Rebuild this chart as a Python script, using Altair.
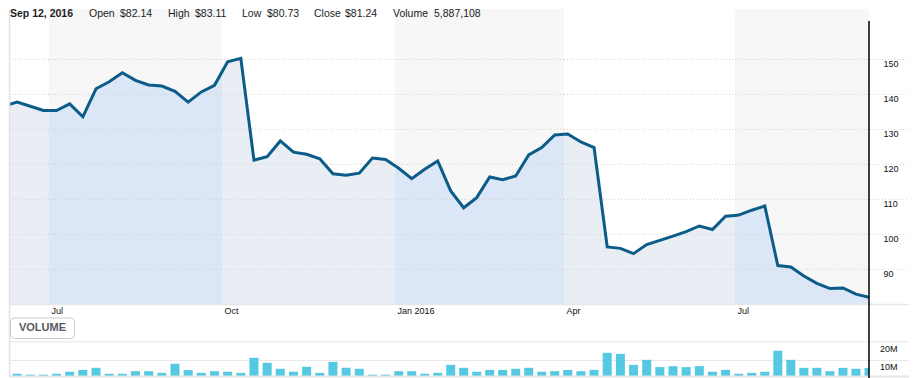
import altair as alt
import pandas as pd

# ---------------- data ----------------
# weekly points (week starting Sunday)
dates = pd.date_range("2015-06-07", periods=67, freq="7D").strftime("%Y-%m-%d").tolist()

close = [136.7, 137.8, 136.6, 135.4, 135.4, 137.3, 133.6, 141.6, 143.6, 146.2,
         144.0, 142.7, 142.4, 140.9, 137.8, 140.7, 142.6, 149.3, 150.3, 121.2,
         122.2, 126.7, 123.5, 122.9, 121.6, 117.3, 116.9, 117.5, 121.8, 121.4,
         118.9, 115.9, 118.6, 121.0, 112.4, 107.6, 110.5, 116.4, 115.6, 116.7,
         122.7, 124.8, 128.4, 128.7, 126.4, 124.8, 96.4, 96.0, 94.5, 97.1,
         98.3, 99.5, 100.8, 102.4, 101.4, 105.2, 105.5, 106.9, 108.1, 91.1,
         90.7, 88.1, 86.0, 84.5, 84.7, 82.9, 82.0]

volume_m = [2.3, 2.8, 2.3, 2.3, 2.8, 3.9, 4.9, 6.0, 2.8, 2.8,
            4.2, 4.2, 3.3, 8.2, 4.8, 3.3, 4.2, 3.9, 3.3, 11.4,
            8.7, 5.5, 3.9, 6.6, 3.3, 9.2, 6.0, 5.5, 2.3, 2.3,
            4.2, 4.2, 2.8, 3.3, 7.6, 6.0, 3.9, 4.9, 4.9, 5.5,
            6.0, 3.9, 4.2, 4.9, 4.2, 4.9, 14.1, 13.5, 7.6, 10.3,
            6.4, 6.9, 6.4, 6.9, 3.9, 4.9, 2.8, 3.3, 3.9, 15.2,
            10.3, 6.0, 6.0, 4.2, 6.0, 5.5, 5.9]

# quarter panels: visible start/end of each, and whether the quarter is shaded
panel_start = ["2015-06-09T15:20", "2015-07-01", "2015-10-01", "2016-01-01", "2016-04-01", "2016-07-01"]
panel_end = ["2015-07-01", "2015-10-01", "2016-01-01", "2016-04-01", "2016-07-01", "2016-09-11"]
panel_shaded = [False, True, False, True, False, True]

price_ticks = [90, 100, 110, 120, 130, 140, 150]
vol_ticks = [10e6, 20e6]
vol_tick_labels = ["10M", "20M"]

header_date = "Sep 12, 2016"
header_labels = ["Open", "High", "Low", "Close", "Volume"]
header_values = ["$82.14", "$83.11", "$80.73", "$81.24", "5,887,108"]

# ---------------- styling / layout ----------------
FONT = "Liberation Sans"
panel_width = [40, 173, 173, 169, 171, 134]
H = 368
PRICE_H = 295
LAST_X0 = 734
LINE_COLOR = "#0b5c88"
AREA_WHITE_Q = "#e9eef5"
AREA_GREY_Q = "#dbe7f6"
BAND_GREY = "#f7f7f7"
BAR_COLOR = "#55c8e2"
RULE_END = 174


def ms(s):
    return int(pd.Timestamp(s, tz="UTC").value // 10**6)


yscale = alt.Scale(domain=[80.1, 164.4], range=[PRICE_H, 0], nice=False, zero=False)
vscale = alt.Scale(domain=[0, 33.33e6], range=[370, 308], nice=False, zero=True)

price_df = pd.DataFrame({"date": dates, "close": close,
                         "volume": [v * 1e6 for v in volume_m]})
ptick_df = pd.DataFrame({"v": price_ticks})
vtick_df = pd.DataFrame({"v": vol_ticks, "label": vol_tick_labels})
one = pd.DataFrame({"k": [0]})

n_panels = len(panel_start)


def rel(page_x):
    return page_x - LAST_X0


def htext(s, page_x, bold=False):
    return alt.Chart(one).mark_text(
        text=s, align="left", baseline="top", font=FONT, fontSize=10.5,
        fontWeight="bold" if bold else "normal", color="#222").encode(
        x=alt.value(rel(page_x)), y=alt.value(0))


def make_panel(k):
    w = panel_width[k]
    last = k == n_panels - 1
    shaded = panel_shaded[k]
    xs = alt.Scale(type="utc", domain=[ms(panel_start[k]), ms(panel_end[k])],
                   nice=False, padding=0)
    if k == 0:
        xax = None
    else:
        xax = alt.Axis(
            values=[ms(panel_start[k])],
            labelExpr="utcmonth(datum.value)==0 ? utcFormat(datum.value,'%b %Y') : utcFormat(datum.value,'%b')",
            orient="bottom", offset=-(H - PRICE_H), ticks=False, tickSize=0, domain=False,
            grid=False, labelAlign="left", labelOffset=2, labelPadding=2, labelBaseline="top",
            labelFontSize=9, labelFont=FONT, labelColor="#111", title=None, labelFlush=False,
            labelOverlap=False)
    yax = alt.Axis(
        values=price_ticks, orient="right", ticks=False, tickSize=0, domain=False, grid=False,
        labelPadding=14, labelBaseline="top", labelOffset=0, labelAlign="left",
        labelFontSize=9, labelFont=FONT, labelColor="#111", title=None) if last else None
    X = alt.X("date:T", scale=xs, axis=xax, title=None)
    rule_end = RULE_END if last else w

    price_layers = []
    if shaded:
        price_layers.append(alt.Chart(one).mark_rect(color=BAND_GREY).encode(
            x=alt.value(0), x2=alt.value(w), y=alt.value(0), y2=alt.value(PRICE_H)))
    price_layers.append(alt.Chart(price_df).mark_area(
        color=AREA_GREY_Q if shaded else AREA_WHITE_Q, clip=True).encode(
        x=X, y=alt.Y("close:Q", scale=yscale, axis=yax, stack=None, title=None),
        y2=alt.value(PRICE_H)))
    price_layers.append(alt.Chart(ptick_df).mark_rule(
        color="#d4d4d4", strokeDash=[1, 2], strokeWidth=1).encode(
        y=alt.Y("v:Q", scale=yscale, axis=yax, title=None),
        x=alt.value(0), x2=alt.value(rule_end)))
    price_layers.append(alt.Chart(one).mark_rule(color="#e6e6e6", strokeWidth=1.5).encode(
        x=alt.value(0), x2=alt.value(rule_end), y=alt.value(PRICE_H + 0.5)))
    price_layers.append(alt.Chart(price_df).mark_line(
        color=LINE_COLOR, strokeWidth=3, clip=True).encode(
        x=X, y=alt.Y("close:Q", scale=yscale, axis=yax, stack=None, title=None)))
    price_layer = alt.layer(*price_layers)

    vol_layers = [
        alt.Chart(vtick_df).mark_rule(color="#e6e6e6", strokeWidth=1).encode(
            y=alt.Y("v:Q", scale=vscale, axis=None), x=alt.value(0), x2=alt.value(rule_end)),
        alt.Chart(price_df).mark_bar(color=BAR_COLOR, size=9, clip=True).encode(
            x=X, y=alt.Y("volume:Q", scale=vscale, axis=None)),
        alt.Chart(one).mark_rule(color="#e6e6e6", strokeWidth=2).encode(
            x=alt.value(0), x2=alt.value(rule_end), y=alt.value(H - 0.5)),
    ]
    if last:
        vol_layers.append(alt.Chart(vtick_df).mark_text(
            align="left", baseline="top", dy=3, fontSize=9, font=FONT, color="#111").encode(
            y=alt.Y("v:Q", scale=vscale, axis=None), x=alt.value(rel(879)), text="label:N"))
    volume_layer = alt.layer(*vol_layers)

    extras = []
    if k == 0:
        extras.append(alt.Chart(one).mark_rule(color="#e2e2e2", strokeWidth=1.5).encode(
            x=alt.value(0.5), y=alt.value(0), y2=alt.value(H)))
    if last:
        extras.append(alt.Chart(price_df.tail(1)).mark_rule(
            color="#000000", strokeWidth=1.5).encode(
            x=X, y=alt.value(12), y2=alt.value(H + 2)))
        extras.append(htext(header_date, 9, bold=True))
        label_page_x = [88, 167, 241, 313, 392]
        value_page_x = [119, 194, 266, 344, 433]
        for lab, val, lx, vx in zip(header_labels, header_values, label_page_x, value_page_x):
            extras.append(htext(lab, lx))
            extras.append(htext(val, vx))
        extras.append(alt.Chart(one).mark_rect(
            fill="white", stroke="#cccccc", strokeWidth=1, cornerRadius=4).encode(
            x=alt.value(rel(9.5)), x2=alt.value(rel(73.5)),
            y=alt.value(309), y2=alt.value(329.5)))
        extras.append(alt.Chart(one).mark_text(
            text="VOLUME", align="center", baseline="middle", font=FONT, fontSize=11,
            fontWeight="bold", color="#555a66").encode(
            x=alt.value(rel(41.5)), y=alt.value(319)))

    return alt.layer(price_layer, volume_layer, *extras).resolve_scale(
        y="independent").properties(width=w, height=H)


panels = [make_panel(k) for k in range(n_panels)]

chart = alt.hconcat(*panels, spacing=0, bounds="flush").properties(
    padding=0, background="white"
).configure_view(stroke=None)

chart.save("out.html", embed_options={"renderer": "svg", "actions": False})
